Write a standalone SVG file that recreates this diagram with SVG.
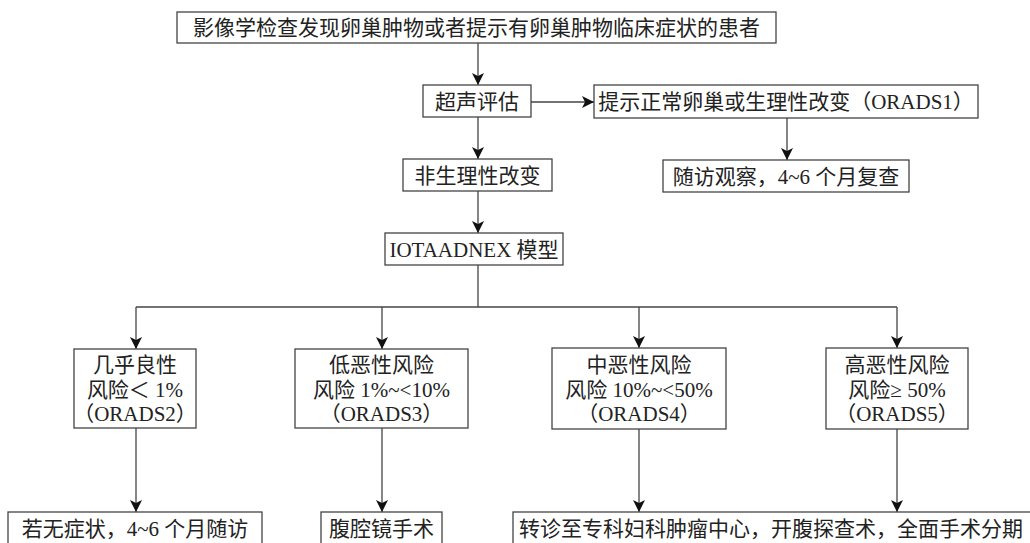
<svg xmlns="http://www.w3.org/2000/svg" width="1030" height="543" viewBox="0 0 1030 543">
<style>
.box{fill:#fff;stroke:#444;stroke-width:1.3}
.t{font-family:"Liberation Serif","Noto Sans CJK SC",serif;font-size:21px;fill:#222;text-anchor:middle;dominant-baseline:central}
.c{fill:none;stroke:#444;stroke-width:1.3}
</style>
<defs>
<marker id="ah" markerUnits="userSpaceOnUse" markerWidth="14" markerHeight="12" refX="12" refY="6" orient="auto">
<path d="M0,0 L12,6 L0,12 L3,6 z" fill="#111"/>
</marker>
</defs>
<rect width="1030" height="543" fill="#fff"/>
<g id="connectors">
<line class="c" x1="478" y1="43" x2="478" y2="85" marker-end="url(#ah)"/>
<line class="c" x1="531" y1="102" x2="594" y2="102" marker-end="url(#ah)"/>
<line class="c" x1="478" y1="117" x2="478" y2="159" marker-end="url(#ah)"/>
<line class="c" x1="787" y1="118" x2="787" y2="160" marker-end="url(#ah)"/>
<line class="c" x1="478" y1="191" x2="478" y2="233" marker-end="url(#ah)"/>
<polyline class="c" points="478,265 478,307"/>
<polyline class="c" points="136,307 897,307"/>
<line class="c" x1="136" y1="307" x2="136" y2="349" marker-end="url(#ah)"/>
<line class="c" x1="382" y1="307" x2="382" y2="349" marker-end="url(#ah)"/>
<line class="c" x1="639" y1="307" x2="639" y2="348" marker-end="url(#ah)"/>
<line class="c" x1="897" y1="307" x2="897" y2="348" marker-end="url(#ah)"/>
<line class="c" x1="136" y1="428" x2="136" y2="512" marker-end="url(#ah)"/>
<line class="c" x1="382" y1="428" x2="382" y2="512" marker-end="url(#ah)"/>
<line class="c" x1="639" y1="429" x2="639" y2="512" marker-end="url(#ah)"/>
<line class="c" x1="897" y1="429" x2="897" y2="512" marker-end="url(#ah)"/>
</g>
<g id="n-start">
<rect class="box" x="177" y="12" width="599" height="31"/>
<text class="t" x="476.5" y="28">影像学检查发现卵巢肿物或者提示有卵巢肿物临床症状的患者</text>
</g>
<g id="n-us">
<rect class="box" x="423" y="85" width="108" height="32"/>
<text class="t" x="477" y="101.5">超声评估</text>
</g>
<g id="n-normal">
<rect class="box" x="594" y="85" width="384" height="33"/>
<text class="t" x="786" y="102">提示正常卵巢或生理性改变（ORADS1）</text>
</g>
<g id="n-follow">
<rect class="box" x="663" y="160" width="246" height="32"/>
<text class="t" x="786" y="176.5">随访观察，4~6 个月复查</text>
</g>
<g id="n-nonphys">
<rect class="box" x="403" y="159" width="149" height="32"/>
<text class="t" x="477.5" y="175.5">非生理性改变</text>
</g>
<g id="n-iota">
<rect class="box" x="385" y="233" width="178" height="32"/>
<text class="t" x="474" y="249.5">IOTAADNEX 模型</text>
</g>
<g id="n-o2">
<rect class="box" x="74" y="349" width="122" height="79"/>
<text class="t" x="135" y="365">几乎良性</text>
<text class="t" x="135" y="390">风险＜ 1%</text>
<text class="t" x="135" y="414">（ORADS2）</text>
</g>
<g id="n-o3">
<rect class="box" x="295" y="349" width="173" height="79"/>
<text class="t" x="381.5" y="365">低恶性风险</text>
<text class="t" x="381.5" y="390">风险 1%~&lt;10%</text>
<text class="t" x="381.5" y="414">（ORADS3）</text>
</g>
<g id="n-o4">
<rect class="box" x="552" y="348" width="174" height="81"/>
<text class="t" x="639" y="365">中恶性风险</text>
<text class="t" x="639" y="390">风险 10%~&lt;50%</text>
<text class="t" x="639" y="414">（ORADS4）</text>
</g>
<g id="n-o5">
<rect class="box" x="826" y="348" width="142" height="81"/>
<text class="t" x="897" y="365">高恶性风险</text>
<text class="t" x="897" y="390">风险≥ 50%</text>
<text class="t" x="897" y="414">（ORADS5）</text>
</g>
<g id="n-r2">
<rect class="box" x="8" y="512" width="254" height="40"/>
<text class="t" x="135" y="529">若无症状，4~6 个月随访</text>
</g>
<g id="n-r3">
<rect class="box" x="321" y="512" width="121" height="40"/>
<text class="t" x="381.5" y="529">腹腔镜手术</text>
</g>
<g id="n-r45">
<rect class="box" x="513" y="512" width="530" height="40"/>
<text class="t" x="771" y="529">转诊至专科妇科肿瘤中心，开腹探查术，全面手术分期</text>
</g>
</svg>
